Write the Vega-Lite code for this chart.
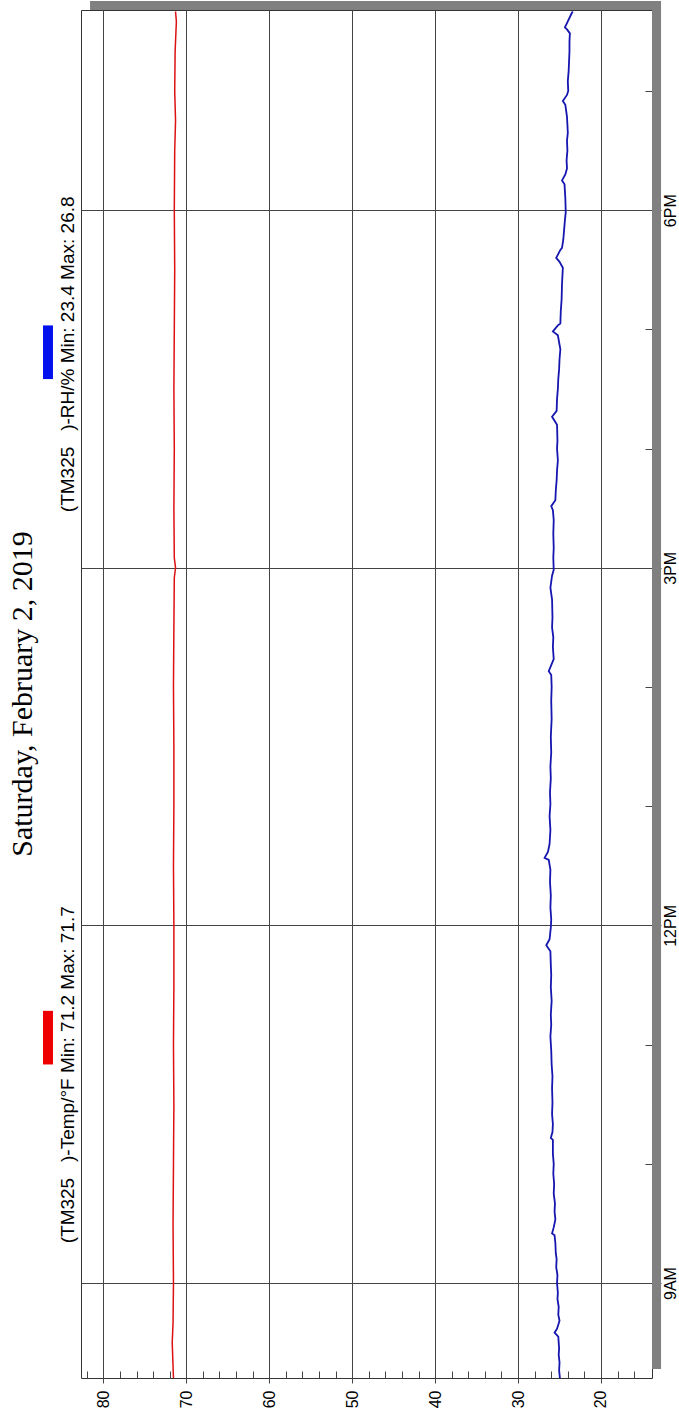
{
  "$schema": "https://vega.github.io/schema/vega-lite/v6.json",
  "width": 571,
  "height": 1368,
  "autosize": {"type": "none"},
  "padding": {"left": 81, "top": 10, "right": 27, "bottom": 36},
  "background": "white",
  "config": {
    "view": {"stroke": "#333333", "strokeWidth": 1, "fill": "white"},
    "axis": {"labelFont": "Liberation Sans", "labelFontSize": 16, "labelColor": "black", "domain": false, "title": null, "tickColor": "#444444", "gridColor": "#444444", "gridWidth": 1, "gridOpacity": 1, "tickOpacity": 1, "ticks": true, "labelOverlap": false, "labelFlush": false}
  },
  "title": {"text": "Saturday, February 2, 2019", "orient": "left", "anchor": "middle", "font": "Liberation Serif", "fontSize": 30, "fontWeight": "normal", "color": "black", "offset": 5},
  "datasets": {
    "temp": [
      {"time": "2019-02-02T08:12", "value": 71.55},
      {"time": "2019-02-02T08:30", "value": 71.7},
      {"time": "2019-02-02T08:40", "value": 71.6},
      {"time": "2019-02-02T09:00", "value": 71.55},
      {"time": "2019-02-02T09:30", "value": 71.6},
      {"time": "2019-02-02T10:00", "value": 71.55},
      {"time": "2019-02-02T10:30", "value": 71.5},
      {"time": "2019-02-02T11:00", "value": 71.55},
      {"time": "2019-02-02T11:30", "value": 71.5},
      {"time": "2019-02-02T12:00", "value": 71.5},
      {"time": "2019-02-02T12:30", "value": 71.55},
      {"time": "2019-02-02T13:00", "value": 71.5},
      {"time": "2019-02-02T13:30", "value": 71.5},
      {"time": "2019-02-02T14:00", "value": 71.55},
      {"time": "2019-02-02T14:30", "value": 71.5},
      {"time": "2019-02-02T14:55", "value": 71.45},
      {"time": "2019-02-02T15:00", "value": 71.3},
      {"time": "2019-02-02T15:05", "value": 71.45},
      {"time": "2019-02-02T15:30", "value": 71.5},
      {"time": "2019-02-02T16:00", "value": 71.45},
      {"time": "2019-02-02T16:30", "value": 71.5},
      {"time": "2019-02-02T17:00", "value": 71.45},
      {"time": "2019-02-02T17:30", "value": 71.4},
      {"time": "2019-02-02T18:00", "value": 71.45},
      {"time": "2019-02-02T18:30", "value": 71.4},
      {"time": "2019-02-02T18:45", "value": 71.3},
      {"time": "2019-02-02T19:00", "value": 71.4},
      {"time": "2019-02-02T19:20", "value": 71.35},
      {"time": "2019-02-02T19:35", "value": 71.2},
      {"time": "2019-02-02T19:40", "value": 71.3}
    ],
    "rh": [
      {"time": "2019-02-02T08:12", "value": 24.95},
      {"time": "2019-02-02T08:16", "value": 25.05},
      {"time": "2019-02-02T08:20", "value": 25.0},
      {"time": "2019-02-02T08:24", "value": 25.1},
      {"time": "2019-02-02T08:27", "value": 25.05},
      {"time": "2019-02-02T08:33", "value": 25.15},
      {"time": "2019-02-02T08:35", "value": 25.6},
      {"time": "2019-02-02T08:37", "value": 25.3},
      {"time": "2019-02-02T08:41", "value": 25.0},
      {"time": "2019-02-02T08:44", "value": 25.15},
      {"time": "2019-02-02T08:48", "value": 25.1},
      {"time": "2019-02-02T08:52", "value": 25.25},
      {"time": "2019-02-02T08:55", "value": 25.2},
      {"time": "2019-02-02T09:00", "value": 25.3},
      {"time": "2019-02-02T09:04", "value": 25.25},
      {"time": "2019-02-02T09:08", "value": 25.4},
      {"time": "2019-02-02T09:12", "value": 25.35},
      {"time": "2019-02-02T09:15", "value": 25.45},
      {"time": "2019-02-02T09:20", "value": 25.5},
      {"time": "2019-02-02T09:24", "value": 25.6},
      {"time": "2019-02-02T09:25", "value": 25.9},
      {"time": "2019-02-02T09:28", "value": 25.7},
      {"time": "2019-02-02T09:32", "value": 25.5},
      {"time": "2019-02-02T09:36", "value": 25.6},
      {"time": "2019-02-02T09:40", "value": 25.55},
      {"time": "2019-02-02T09:45", "value": 25.7},
      {"time": "2019-02-02T09:50", "value": 25.65},
      {"time": "2019-02-02T09:55", "value": 25.75},
      {"time": "2019-02-02T10:00", "value": 25.7},
      {"time": "2019-02-02T10:05", "value": 25.8},
      {"time": "2019-02-02T10:12", "value": 25.8},
      {"time": "2019-02-02T10:13", "value": 26.05},
      {"time": "2019-02-02T10:16", "value": 25.85},
      {"time": "2019-02-02T10:20", "value": 25.8},
      {"time": "2019-02-02T10:25", "value": 25.9},
      {"time": "2019-02-02T10:31", "value": 25.85},
      {"time": "2019-02-02T10:38", "value": 25.9},
      {"time": "2019-02-02T10:44", "value": 25.85},
      {"time": "2019-02-02T10:50", "value": 25.95},
      {"time": "2019-02-02T10:57", "value": 26.0},
      {"time": "2019-02-02T11:04", "value": 26.1},
      {"time": "2019-02-02T11:10", "value": 26.0},
      {"time": "2019-02-02T11:15", "value": 26.05},
      {"time": "2019-02-02T11:22", "value": 25.95},
      {"time": "2019-02-02T11:29", "value": 26.05},
      {"time": "2019-02-02T11:35", "value": 26.0},
      {"time": "2019-02-02T11:40", "value": 26.05},
      {"time": "2019-02-02T11:47", "value": 26.1},
      {"time": "2019-02-02T11:50", "value": 26.6},
      {"time": "2019-02-02T11:53", "value": 26.2},
      {"time": "2019-02-02T11:59", "value": 26.05},
      {"time": "2019-02-02T12:03", "value": 26.0},
      {"time": "2019-02-02T12:09", "value": 26.1},
      {"time": "2019-02-02T12:15", "value": 26.05},
      {"time": "2019-02-02T12:22", "value": 26.15},
      {"time": "2019-02-02T12:28", "value": 26.1},
      {"time": "2019-02-02T12:33", "value": 26.3},
      {"time": "2019-02-02T12:34", "value": 26.8},
      {"time": "2019-02-02T12:37", "value": 26.4},
      {"time": "2019-02-02T12:41", "value": 26.2},
      {"time": "2019-02-02T12:48", "value": 26.1},
      {"time": "2019-02-02T12:55", "value": 26.2},
      {"time": "2019-02-02T13:01", "value": 26.1},
      {"time": "2019-02-02T13:07", "value": 26.15},
      {"time": "2019-02-02T13:14", "value": 26.05},
      {"time": "2019-02-02T13:20", "value": 26.1},
      {"time": "2019-02-02T13:27", "value": 26.0},
      {"time": "2019-02-02T13:35", "value": 26.05},
      {"time": "2019-02-02T13:44", "value": 25.95},
      {"time": "2019-02-02T13:53", "value": 26.0},
      {"time": "2019-02-02T14:00", "value": 25.95},
      {"time": "2019-02-02T14:06", "value": 26.0},
      {"time": "2019-02-02T14:08", "value": 26.3},
      {"time": "2019-02-02T14:11", "value": 26.0},
      {"time": "2019-02-02T14:14", "value": 25.7},
      {"time": "2019-02-02T14:20", "value": 25.8},
      {"time": "2019-02-02T14:25", "value": 25.75},
      {"time": "2019-02-02T14:30", "value": 25.9},
      {"time": "2019-02-02T14:35", "value": 25.85},
      {"time": "2019-02-02T14:44", "value": 25.9},
      {"time": "2019-02-02T14:50", "value": 26.1},
      {"time": "2019-02-02T14:56", "value": 25.9},
      {"time": "2019-02-02T14:59", "value": 25.7},
      {"time": "2019-02-02T15:05", "value": 25.75},
      {"time": "2019-02-02T15:10", "value": 25.7},
      {"time": "2019-02-02T15:17", "value": 25.75},
      {"time": "2019-02-02T15:24", "value": 25.7},
      {"time": "2019-02-02T15:29", "value": 25.8},
      {"time": "2019-02-02T15:31", "value": 26.0},
      {"time": "2019-02-02T15:34", "value": 25.5},
      {"time": "2019-02-02T15:39", "value": 25.45},
      {"time": "2019-02-02T15:44", "value": 25.35},
      {"time": "2019-02-02T15:49", "value": 25.3},
      {"time": "2019-02-02T15:54", "value": 25.2},
      {"time": "2019-02-02T16:00", "value": 25.3},
      {"time": "2019-02-02T16:04", "value": 25.25},
      {"time": "2019-02-02T16:12", "value": 25.3},
      {"time": "2019-02-02T16:16", "value": 25.9},
      {"time": "2019-02-02T16:19", "value": 25.35},
      {"time": "2019-02-02T16:25", "value": 25.3},
      {"time": "2019-02-02T16:30", "value": 25.2},
      {"time": "2019-02-02T16:35", "value": 25.15},
      {"time": "2019-02-02T16:40", "value": 25.05},
      {"time": "2019-02-02T16:45", "value": 25.0},
      {"time": "2019-02-02T16:50", "value": 24.9},
      {"time": "2019-02-02T16:57", "value": 25.2},
      {"time": "2019-02-02T16:59", "value": 25.8},
      {"time": "2019-02-02T17:02", "value": 25.2},
      {"time": "2019-02-02T17:03", "value": 24.9},
      {"time": "2019-02-02T17:09", "value": 24.85},
      {"time": "2019-02-02T17:15", "value": 24.75},
      {"time": "2019-02-02T17:23", "value": 24.7},
      {"time": "2019-02-02T17:31", "value": 24.6},
      {"time": "2019-02-02T17:34", "value": 25.0},
      {"time": "2019-02-02T17:36", "value": 25.4},
      {"time": "2019-02-02T17:40", "value": 24.9},
      {"time": "2019-02-02T17:41", "value": 24.7},
      {"time": "2019-02-02T17:45", "value": 24.55},
      {"time": "2019-02-02T17:50", "value": 24.45},
      {"time": "2019-02-02T17:55", "value": 24.35},
      {"time": "2019-02-02T17:59", "value": 24.25},
      {"time": "2019-02-02T18:06", "value": 24.3},
      {"time": "2019-02-02T18:13", "value": 24.4},
      {"time": "2019-02-02T18:15", "value": 24.7},
      {"time": "2019-02-02T18:18", "value": 24.3},
      {"time": "2019-02-02T18:21", "value": 24.1},
      {"time": "2019-02-02T18:25", "value": 24.15},
      {"time": "2019-02-02T18:30", "value": 24.05},
      {"time": "2019-02-02T18:35", "value": 24.1},
      {"time": "2019-02-02T18:39", "value": 24.0},
      {"time": "2019-02-02T18:43", "value": 24.05},
      {"time": "2019-02-02T18:47", "value": 24.1},
      {"time": "2019-02-02T18:53", "value": 24.3},
      {"time": "2019-02-02T18:55", "value": 24.6},
      {"time": "2019-02-02T18:58", "value": 24.1},
      {"time": "2019-02-02T19:00", "value": 23.95},
      {"time": "2019-02-02T19:05", "value": 24.0},
      {"time": "2019-02-02T19:10", "value": 23.9},
      {"time": "2019-02-02T19:15", "value": 23.85},
      {"time": "2019-02-02T19:20", "value": 23.8},
      {"time": "2019-02-02T19:25", "value": 23.8},
      {"time": "2019-02-02T19:29", "value": 23.75},
      {"time": "2019-02-02T19:31", "value": 24.1},
      {"time": "2019-02-02T19:32", "value": 24.35},
      {"time": "2019-02-02T19:35", "value": 24.0},
      {"time": "2019-02-02T19:39", "value": 23.55},
      {"time": "2019-02-02T19:40", "value": 23.4}
    ],
    "legendTemp": [{"label": "(TM325\u00a0\u00a0 )-Temp/°F Min: 71.2 Max: 71.7"}],
    "legendRH": [{"label": "(TM325\u00a0\u00a0 )-RH/% Min: 23.4 Max: 26.8"}],
    "one": [{"k": 1}]
  },
  "resolve": {"axis": {"x": "independent", "y": "independent"}},
  "layer": [
    {
      "data": {"name": "one"},
      "mark": {"type": "rect", "fill": "#808080", "clip": false},
      "encoding": {
        "x": {"datum": 81.61, "type": "quantitative", "scale": {"domain": [82.7, 13.85], "zero": false, "nice": false}, "axis": null},
        "x2": {"datum": 12.76},
        "y": {"datum": {"year": 2019, "month": 2, "date": 2, "hours": 19, "minutes": 40, "seconds": 46}, "type": "temporal", "scale": {"domain": [{"year": 2019, "month": 2, "date": 2, "hours": 8, "minutes": 12, "seconds": 11}, {"year": 2019, "month": 2, "date": 2, "hours": 19, "minutes": 40, "seconds": 46}], "nice": false}, "axis": null},
        "y2": {"datum": {"year": 2019, "month": 2, "date": 2, "hours": 19, "minutes": 45, "seconds": 18}}
      }
    },
    {
      "data": {"name": "one"},
      "mark": {"type": "rect", "fill": "#808080", "clip": false},
      "encoding": {
        "x": {"datum": 13.85, "type": "quantitative", "axis": null},
        "x2": {"datum": 12.76},
        "y": {"datum": {"year": 2019, "month": 2, "date": 2, "hours": 8, "minutes": 16, "seconds": 43}, "type": "temporal", "axis": null},
        "y2": {"datum": {"year": 2019, "month": 2, "date": 2, "hours": 19, "minutes": 40, "seconds": 46}}
      }
    },
    {
      "data": {"name": "temp"},
      "mark": {"type": "line", "color": "#dd1111", "strokeWidth": 1.5, "clip": true},
      "encoding": {
        "x": {"field": "value", "type": "quantitative",
          "axis": {"orient": "bottom", "values": [20, 30, 40, 50, 60, 70, 80], "labelAngle": -90, "labelAlign": "right", "labelBaseline": "middle", "grid": true, "tickSize": 5, "labelPadding": 7}},
        "y": {"field": "time", "type": "temporal",
          "axis": {"orient": "right", "values": [
            {"year": 2019, "month": 2, "date": 2, "hours": 9},
            {"year": 2019, "month": 2, "date": 2, "hours": 12},
            {"year": 2019, "month": 2, "date": 2, "hours": 15},
            {"year": 2019, "month": 2, "date": 2, "hours": 18}],
            "format": "%-I%p", "labelAngle": -90, "labelAlign": "center", "labelBaseline": "top", "labelFontSize": 16, "grid": true, "tickSize": 9, "labelPadding": 1}}
      }
    },
    {
      "data": {"name": "rh"},
      "mark": {"type": "line", "color": "#1515b0", "strokeWidth": 1.8, "clip": true},
      "encoding": {
        "x": {"field": "value", "type": "quantitative",
          "axis": {"orient": "bottom", "values": [16, 18, 22, 24, 26, 28, 32, 34, 36, 38, 42, 44, 46, 48, 52, 54, 56, 58, 62, 64, 66, 68, 72, 74, 76, 78, 82], "labels": false, "grid": false, "tickSize": -7}},
        "y": {"field": "time", "type": "temporal",
          "axis": {"orient": "right", "values": [
            {"year": 2019, "month": 2, "date": 2, "hours": 10},
            {"year": 2019, "month": 2, "date": 2, "hours": 11},
            {"year": 2019, "month": 2, "date": 2, "hours": 13},
            {"year": 2019, "month": 2, "date": 2, "hours": 14},
            {"year": 2019, "month": 2, "date": 2, "hours": 16},
            {"year": 2019, "month": 2, "date": 2, "hours": 17},
            {"year": 2019, "month": 2, "date": 2, "hours": 19}],
            "labels": false, "grid": false, "tickSize": -7}}
      }
    },
    {
      "data": {"name": "legendTemp"},
      "mark": {"type": "text", "angle": 270, "align": "left", "baseline": "middle", "font": "Liberation Sans", "fontSize": 19, "color": "black", "clip": false},
      "encoding": {
        "text": {"field": "label"},
        "x": {"datum": 84.27, "type": "quantitative", "axis": null},
        "y": {"datum": {"year": 2019, "month": 2, "date": 2, "hours": 9, "minutes": 20}, "type": "temporal", "axis": null}
      }
    },
    {
      "data": {"name": "legendRH"},
      "mark": {"type": "text", "angle": 270, "align": "left", "baseline": "middle", "font": "Liberation Sans", "fontSize": 19, "color": "black", "clip": false},
      "encoding": {
        "text": {"field": "label"},
        "x": {"datum": 84.27, "type": "quantitative", "axis": null},
        "y": {"datum": {"year": 2019, "month": 2, "date": 2, "hours": 15, "minutes": 28}, "type": "temporal", "axis": null}
      }
    },
    {
      "data": {"name": "one"},
      "mark": {"type": "rect", "fill": "#ee0000", "clip": false},
      "encoding": {
        "x": {"datum": 87.28, "type": "quantitative", "axis": null},
        "x2": {"datum": 86.08},
        "y": {"datum": {"year": 2019, "month": 2, "date": 2, "hours": 10, "minutes": 50}, "type": "temporal", "axis": null},
        "y2": {"datum": {"year": 2019, "month": 2, "date": 2, "hours": 11, "minutes": 17}}
      }
    },
    {
      "data": {"name": "one"},
      "mark": {"type": "rect", "fill": "#0011ee", "clip": false},
      "encoding": {
        "x": {"datum": 87.28, "type": "quantitative", "axis": null},
        "x2": {"datum": 86.08},
        "y": {"datum": {"year": 2019, "month": 2, "date": 2, "hours": 16, "minutes": 35}, "type": "temporal", "axis": null},
        "y2": {"datum": {"year": 2019, "month": 2, "date": 2, "hours": 17, "minutes": 2}}
      }
    }
  ]
}
